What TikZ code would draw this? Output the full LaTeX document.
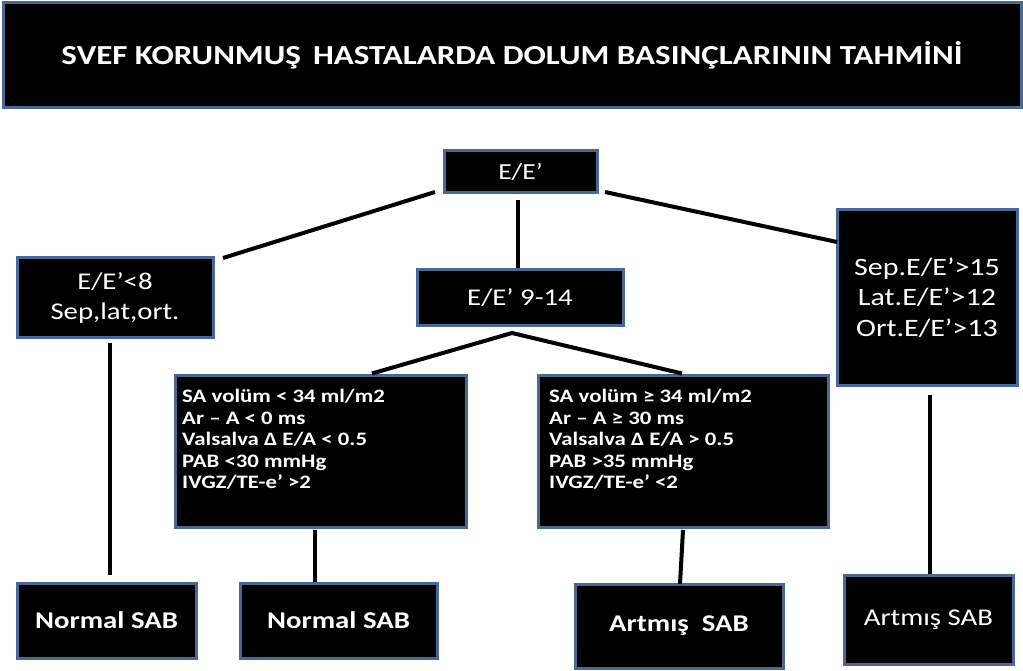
\documentclass[tikz,border=0pt]{standalone}
\usepackage{fontspec}
\setmainfont[FakeStretch=1.2]{Carlito}
\definecolor{boxborder}{RGB}{74,104,145}
\begin{document}
\begin{tikzpicture}[x=1pt,y=-1pt,
  box/.style={draw=boxborder, fill=black, line width=3pt, text=white, inner sep=0pt, align=center},
  conn/.style={draw=black, line width=4pt},
  crit/.style={text=white, font=\fontsize{19}{21.5}\selectfont\bfseries, align=left, anchor=north west, inner sep=0pt}]
\useasboundingbox (0,0) rectangle (1023,671);
% boxes
\node[box, minimum width=1018pt, minimum height=105pt, font=\fontsize{27.5}{30}\selectfont\bfseries] (title) at (512,55.5) {SVEF KORUNMUŞ\, HASTALARDA DOLUM BASINÇLARININ TAHMİNİ};
\node[box, minimum width=153pt, minimum height=42pt, font=\fontsize{23}{29}\selectfont] (ee) at (520.5,172) {E/E’};
\node[box, minimum width=196pt, minimum height=79pt, font=\fontsize{24}{30}\selectfont] (lt) at (115,297.5) {E/E’<8\\Sep,lat,ort.};
\node[box, minimum width=206pt, minimum height=55pt, font=\fontsize{24}{29}\selectfont] (mid) at (520,297.5) {E/E’ 9-14};
\node[box, minimum width=180pt, minimum height=175pt, font=\fontsize{25}{30.5}\selectfont] (gt) at (927,297.5) {Sep.E/E’>15\\Lat.E/E’>12\\Ort.E/E’>13};
\node[box, minimum width=291pt, minimum height=152pt] (lm) at (320.5,451) {};
\node[box, minimum width=290pt, minimum height=152pt] (rm) at (683,451) {};
\node[crit] (lmt) at (182,389) {SA volüm < 34 ml/m2\\Ar – A < 0 ms\\Valsalva Δ E/A < 0.5\\PAB <30 mmHg\\IVGZ/TE-e’ >2};
\node[crit] (rmt) at (549,389) {SA volüm ≥ 34 ml/m2\\Ar – A ≥ 30 ms\\Valsalva Δ E/A > 0.5\\PAB >35 mmHg\\IVGZ/TE-e’ <2};
\node[box, minimum width=179pt, minimum height=75pt, font=\fontsize{24}{28}\selectfont\bfseries] (n1) at (106.5,620.5) {Normal SAB};
\node[box, minimum width=197pt, minimum height=75pt, font=\fontsize{24}{28}\selectfont\bfseries] (n2) at (338.5,620.5) {Normal SAB};
\node[box, minimum width=208pt, minimum height=84pt, font=\fontsize{24}{28}\selectfont\bfseries] (a1) at (679,626) {Artmış\ \ SAB};
\node[box, minimum width=169pt, minimum height=89pt, font=\fontsize{24}{28}\selectfont] (a2) at (928.5,619.5) {Artmış SAB};
% connector free ends
\coordinate (ee1) at (435,192);
\coordinate (lt1) at (223,258);
\coordinate (ee2) at (605,192);
\coordinate (ee3) at (518,200);
\coordinate (mid1) at (512,333);
\coordinate (lt2) at (110,343);
\coordinate (n1t) at (110,575);
\coordinate (lm1) at (315,530);
\coordinate (rm1) at (683,530);
\coordinate (gt1) at (930,395);
% connectors
\draw[conn] (ee1) -- (lt1);
\draw[conn] (ee2) -- (837,242);
\draw[conn] (ee3) -- (ee3 |- mid.north);
\draw[conn] (lm.north -| 372,0) -- (mid1) -- (rm.north -| 682,0);
\draw[conn] (lt2) -- (n1t);
\draw[conn] (lm1) -- (lm1 |- n2.north);
\draw[conn] (rm1) -- (680,584);
\draw[conn] (gt1) -- (gt1 |- a2.north);
\end{tikzpicture}
\end{document}
